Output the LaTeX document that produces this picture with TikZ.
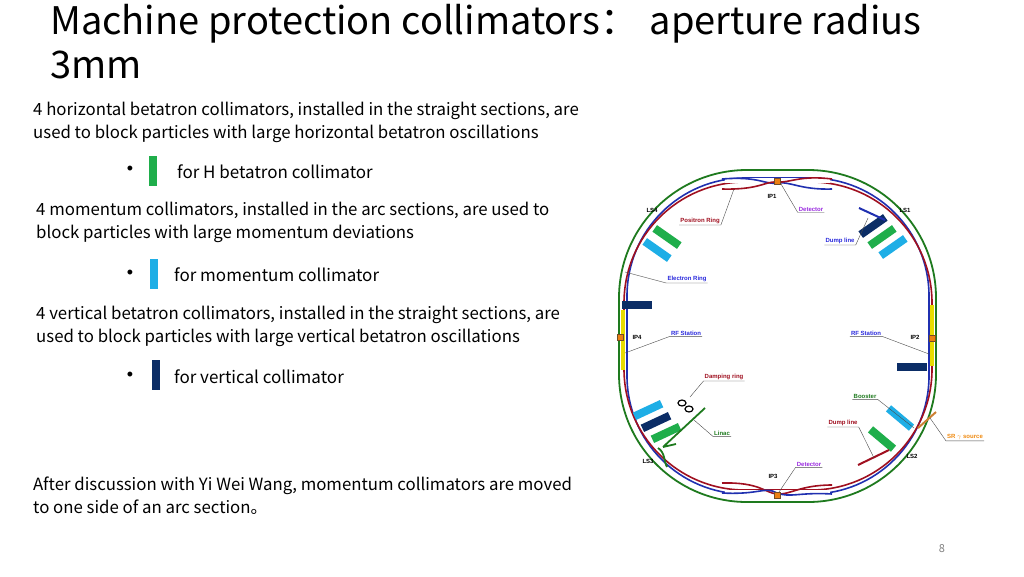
\documentclass[tikz,border=0pt]{standalone}
\usepackage{fontspec}
\setmainfont{Noto Sans CJK SC}
\setsansfont{Liberation Sans}
\definecolor{ringgreen}{HTML}{1E7A1E}
\definecolor{ringred}{HTML}{A01020}
\definecolor{ringblue}{HTML}{2030B0}
\definecolor{hgreen}{HTML}{1FAE4B}
\definecolor{mblue}{HTML}{1EAEE6}
\definecolor{vnavy}{HTML}{0B2D66}
\definecolor{lblblue}{HTML}{2A2ADD}
\definecolor{lblpurple}{HTML}{9A2BE0}
\definecolor{lblorange}{HTML}{F08A10}
\tikzset{
 bar/.style={minimum width=30pt,minimum height=8pt,inner sep=0pt},
 hbar/.style={bar,fill=hgreen},
 mbar/.style={bar,fill=mblue},
 vbar/.style={bar,fill=vnavy},
 lbl/.style={font=\sffamily\bfseries\fontsize{6}{7}\selectfont,inner sep=1pt},
 lead/.style={gray!60!black,line width=0.4pt},
 body/.style={font=\fontsize{17}{23}\selectfont,anchor=west,align=left,inner sep=0pt},
 bul/.style={inner sep=0pt,font=\sffamily\fontsize{18}{18}\selectfont},
}
\begin{document}
\begin{tikzpicture}[x=1pt,y=-1pt]
\useasboundingbox (0,0) rectangle (1024,576);
\fill[white] (0,0) rectangle (1024,576);
% title
\node[anchor=north west,inner sep=0pt,align=left,font=\fontsize{38}{44}\selectfont] (title) at (50,4) {Machine protection collimators：\hspace{0.3em}aperture radius\\3mm};
\node[body,font=\fontsize{16.8}{23}\selectfont] (t1) at (33,122) {4 horizontal betatron collimators, installed in the straight sections, are\\used to block particles with large horizontal betatron oscillations};
\node[bul] (b1) at (130,170) {•};
\node[hbar,minimum width=8pt,minimum height=30pt] (k1) at (153,171) {};
\node[body] (l1) at (177,172) {for H betatron collimator};
\node[body,font=\fontsize{16.8}{23}\selectfont] (t2) at (36,222) {4 momentum collimators, installed in the arc sections, are used to\\block particles with large momentum deviations};
\node[bul] (b2) at (130,274) {•};
\node[mbar,minimum width=8pt,minimum height=30pt] (k2) at (154,274) {};
\node[body] (l2) at (174,275) {for momentum collimator};
\node[body,font=\fontsize{16.8}{23}\selectfont] (t3) at (36,326) {4 vertical betatron collimators, installed in the straight sections, are\\used to block particles with large vertical betatron oscillations};
\node[bul] (b3) at (130,376) {•};
\node[vbar,minimum width=8pt,minimum height=30pt] (k3) at (156,375) {};
\node[body] (l3) at (174,377) {for vertical collimator};
\node[body,font=\fontsize{16.8}{23}\selectfont] (t4) at (33,496) {After discussion with Yi Wei Wang, momentum collimators are moved\\to one side of an arc section。};
\node[font=\fontsize{11}{12}\selectfont,text=gray] (pg) at (942,549) {8};
% rings
\draw[ringblue,line width=1.6pt,rounded corners=118pt] (627,178) rectangle (929,494);
\draw[ringred,line width=1.6pt,rounded corners=121pt] (624,182) rectangle (932,490);
\draw[white,line width=5pt] (725,180)--(830,180) (725,492)--(830,492);
\draw[ringblue,line width=1.6pt] (722,179) .. controls (760,176) and (765,185) .. (777,183) .. controls (790,181) and (800,190) .. (832,189);
\draw[ringred,line width=1.6pt] (722,189) .. controls (760,190) and (765,181) .. (777,182) .. controls (790,183) and (800,175) .. (832,179);
\draw[ringred,line width=1.6pt] (722,483) .. controls (760,482) and (765,493) .. (777,494) .. controls (790,495) and (800,485) .. (832,485);
\draw[ringblue,line width=1.6pt] (722,493) .. controls (760,495) and (765,486) .. (777,493) .. controls (790,498) and (800,492) .. (832,494);
\draw[ringgreen,line width=1.8pt,rounded corners=128pt] (619,170) rectangle (936,502);
% yellow RF sections
\fill[yellow!80!olive] (621,310) rectangle (625,370);
\fill[yellow!80!olive] (930,305) rectangle (934,366);
% IP boxes
\foreach \n/\p in {ip1/{(777,181)},ip2/{(932,338)},ip3/{(777,495)},ip4/{(620,337)}}
  \node[draw=brown!60!black,fill=orange!70!brown,minimum size=6pt,inner sep=0pt] (\n) at \p {};
% collimator bars
\node[hbar,rotate=-35] (c1) at (667,237) {};
\node[mbar,rotate=-35] (c2) at (657,250) {};
\node[vbar,rotate=35] (c3) at (873,226) {};
\node[hbar,rotate=35] (c4) at (882,237) {};
\node[mbar,rotate=35] (c5) at (893,247) {};
\node[vbar] (c6) at (637,305) {};
\node[vbar] (c7) at (912,367) {};
\node[mbar,rotate=25] (c8) at (648,410) {};
\node[vbar,rotate=25] (c9) at (656,422) {};
\node[hbar,rotate=25] (c10) at (666,433) {};
\node[mbar,rotate=-40] (c11) at (900,418) {};
\node[hbar,rotate=-40] (c12) at (882,439) {};
% dump lines, linac, SR
\draw[ringblue,line width=2pt] (859,208) -- (885,220);
\draw[ringred,line width=2pt] (858,465) -- (889,450);
\draw[brown!80!orange,line width=2pt] (918,428) -- (936,412);
\draw[ringgreen,line width=1.8pt] (658,448) .. controls (665,452) and (664,462) .. (667,467) (663,447) -- (705,408) (663,447) -- (676,444);
\draw[black,line width=1.2pt] (682,403) ellipse (4pt and 3pt) (689,409) ellipse (4pt and 3pt);
% labels
\node[lbl] (ls4) at (652,210) {LS4};
\node[lbl] (ls1) at (905,210) {LS1};
\node[lbl] (ls2) at (912,456) {LS2};
\node[lbl] (ls3) at (648,461) {LS3};
\node[lbl] (lip1) at (772,196) {IP1};
\node[lbl] (lip2) at (915,337) {IP2};
\node[lbl] (lip3) at (773,476) {IP3};
\node[lbl] (lip4) at (637,337) {IP4};
\node[lbl,text=lblpurple] (det1) at (811,209) {Detector};
\node[lbl,text=lblpurple] (det3) at (809,464) {Detector};
\node[lbl,text=ringred] (pos) at (700,221) {Positron Ring};
\node[lbl,text=lblblue] (dl1) at (840,241) {Dump line};
\node[lbl,text=lblblue] (er) at (687,279) {Electron Ring};
\node[lbl,text=lblblue] (rf4) at (686,333) {RF Station};
\node[lbl,text=lblblue] (rf2) at (866,333) {RF Station};
\node[lbl,text=ringred] (dr) at (724,377) {Damping ring};
\node[lbl,text=ringgreen] (bo) at (865,396) {Booster};
\node[lbl,text=ringred] (dl2) at (843,423) {Dump line};
\node[lbl,text=lblorange] (sr) at (965,437) {SR $\gamma$ source};
\node[lbl,text=ringgreen] (li) at (722,433) {Linac};
% leaders
\draw[lead] (pos.south west) -- (pos.south east) -- (734,189);
\draw[lead] (det1.south east) -- (det1.south west) -- (781,184);
\draw[lead] (dl1.south west) -- (dl1.south east) -- (868,218);
\draw[lead] (er.south east) -- (er.south west) -- (625,272);
\draw[lead] (rf4.south east) -- (rf4.south west) -- (625,353);
\draw[lead] (rf2.south west) -- (rf2.south east) -- (929,354);
\draw[lead] (dr.south east) -- (dr.south west) -- (690,397);
\draw[lead] (bo.south west) -- (bo.south east) -- (914,428);
\draw[lead] (dl2.south west) -- (dl2.south east) -- (874,458);
\draw[lead] (sr.south east) -- (sr.south west) -- (930,418);
\draw[lead] (li.south east) -- (li.south west) -- (694,420);
\draw[lead] (det3.south east) -- (det3.south west) -- (779,492);
\end{tikzpicture}
\end{document}
